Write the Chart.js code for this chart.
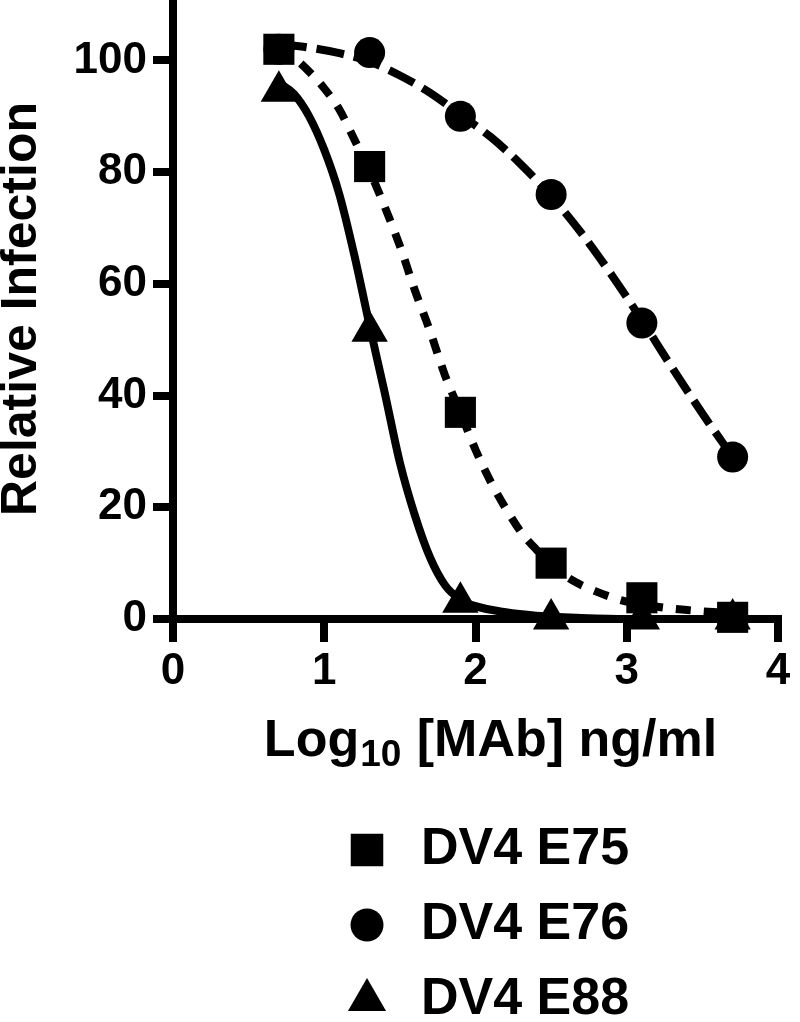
<!DOCTYPE html>
<html>
<head>
<meta charset="utf-8">
<script src="https://cdn.jsdelivr.net/npm/chart.js"></script>
<style>
  html, body { margin: 0; padding: 0; background: #fff; overflow: hidden; }
  /* chart.js keeps ~23px above the plot; hide it so the axis meets the top edge */
  canvas { display: block; margin-top: -23px; }
</style>
</head>
<body>
<canvas id="chart" width="800" height="1045"></canvas>
<script>
// measured doses (log10 ng/ml) and relative infection
const doseLog = [0.7, 1.3, 1.9, 2.5, 3.1, 3.7];
const e75 = [102, 81, 37, 10, 3.8, 0.3];
const e76 = [102, 101.4, 90, 76, 53, 29];
const e88 = [94.5, 51.5, 3, 0, 0, 0];

// fitted curves
const fit75X = [0.7, 0.8, 0.9, 1.0, 1.1, 1.2, 1.3, 1.4, 1.5, 1.6, 1.7, 1.8, 1.9, 2.0, 2.1, 2.2, 2.3, 2.4, 2.5, 2.6, 2.8, 3.0, 3.2, 3.4, 3.7];
const fit75Y = [102.5, 100.5, 98, 95, 91.2, 85.8, 80.2, 73.8, 66.8, 58.8, 51.5, 43.5, 37, 30.3, 24.6, 19.8, 15.6, 12.5, 9.9, 7.6, 4.9, 3.1, 2.2, 1.6, 1.0];
const fit76X = [0.7, 0.9, 1.1, 1.3, 1.5, 1.7, 1.9, 2.1, 2.3, 2.5, 2.7, 2.9, 3.1, 3.3, 3.5, 3.7];
const fit76Y = [103, 102.3, 101.3, 99.8, 97.3, 94.2, 90.3, 86.3, 81.4, 75.7, 69.1, 61.6, 53.5, 45, 36.8, 29];
const fit88X = [0.7, 0.8, 0.9, 1.0, 1.1, 1.2, 1.3, 1.4, 1.5, 1.6, 1.7, 1.8, 1.9, 2.0, 2.2, 2.4, 2.7, 3.0, 3.7];
const fit88Y = [96, 94, 90, 84, 76, 65, 52.5, 40.5, 28, 18.5, 11, 6, 3.5, 2.3, 1.2, 0.6, 0.2, 0, 0];

const seriesNames = ['DV4 E75', 'DV4 E76', 'DV4 E88'];
const xTickValues = [0, 1, 2, 3, 4];
const yTickValues = [0, 20, 40, 60, 80, 100];
const xTitleParts = ['Log', '10', ' [MAb] ng/ml'];
const yTitle = 'Relative Infection';

const FONT = '"Liberation Sans", Arial, Helvetica, sans-serif';

const toPoints = (xs, ys) => xs.map((x, i) => ({ x: x, y: ys[i] }));

function markers(i, values, style, radius) {
  return {
    label: seriesNames[i],
    data: toPoints(doseLog, values),
    pointStyle: style,
    pointRadius: radius,
    pointBackgroundColor: '#000',
    pointBorderWidth: 0,
    showLine: false,
    order: i,
    clip: false,
    legendRow: i
  };
}

function curve(xs, ys, dash) {
  return {
    data: toPoints(xs, ys),
    showLine: true,
    pointRadius: 0,
    borderColor: '#000',
    borderWidth: 8,
    borderDash: dash,
    borderCapStyle: 'butt',
    cubicInterpolationMode: 'monotone',
    order: 5,
    clip: false
  };
}

// x title with subscript + the stacked legend under the plot
const extras = {
  id: 'extras',
  afterDraw(chart) {
    const ctx = chart.ctx;
    const area = chart.chartArea;
    ctx.save();
    ctx.fillStyle = '#000';
    ctx.textAlign = 'left';
    ctx.textBaseline = 'alphabetic';

    const mainFont = 'bold 52px ' + FONT;
    const subFont = 'bold 37px ' + FONT;
    ctx.font = mainFont;
    const w0 = ctx.measureText(xTitleParts[0]).width;
    const w2 = ctx.measureText(xTitleParts[2]).width;
    ctx.font = subFont;
    const w1 = ctx.measureText(xTitleParts[1]).width + 2;
    const base = area.bottom + 137;
    let x = (area.left + area.right) / 2 + 15 - (w0 + w1 + w2) / 2;
    ctx.font = mainFont;
    ctx.fillText(xTitleParts[0], x, base);
    ctx.font = subFont;
    ctx.fillText(xTitleParts[1], x + w0 + 1, base + 10);
    ctx.font = mainFont;
    ctx.fillText(xTitleParts[2], x + w0 + w1, base);

    ctx.textBaseline = 'middle';
    chart.data.datasets.forEach(ds => {
      if (ds.legendRow === undefined) return;
      const y = area.bottom + 231 + ds.legendRow * 75;
      Chart.helpers.drawPoint(ctx, {
        pointStyle: ds.pointStyle,
        radius: ds.pointRadius + 1,
        rotation: 0,
        borderWidth: 0
      }, 367, y);
      ctx.font = mainFont;
      ctx.fillText(ds.label, 421, y);
    });
    ctx.restore();
  }
};

new Chart(document.getElementById('chart'), {
  type: 'scatter',
  data: {
    datasets: [
      markers(0, e75, 'rect', 22),
      markers(1, e76, 'circle', 15.5),
      markers(2, e88, 'triangle', 21),
      curve(fit75X, fit75Y, [15, 13]),
      curve(fit76X, fit76Y, [28, 10]),
      curve(fit88X, fit88Y, [])
    ]
  },
  options: {
    responsive: false,
    animation: false,
    events: [],
    layout: { padding: { top: 0, left: 0, right: 0, bottom: 303 } },
    plugins: { legend: { display: false }, tooltip: { enabled: false } },
    scales: {
      x: {
        type: 'linear',
        min: 0,
        max: 4,
        afterBuildTicks: s => { s.ticks = xTickValues.map(v => ({ value: v })); },
        afterFit: s => { s.height = 100; s.paddingLeft = 0; s.paddingRight = 12; },
        grid: { drawOnChartArea: false, color: '#000', lineWidth: 8, tickLength: 23 },
        border: { color: '#000', width: 8 },
        ticks: { color: '#000', padding: 3, font: { family: FONT, size: 44, weight: 'bold' } }
      },
      y: {
        type: 'linear',
        min: 0,
        max: 111,
        afterBuildTicks: s => { s.ticks = yTickValues.map(v => ({ value: v })); },
        afterFit: s => { s.width = 173; s.paddingTop = 0; s.paddingBottom = 0; },
        grid: { drawOnChartArea: false, color: '#000', lineWidth: 8, tickLength: 20 },
        border: { color: '#000', width: 8 },
        ticks: { color: '#000', padding: 6, font: { family: FONT, size: 44, weight: 'bold' } },
        title: {
          display: true,
          text: yTitle,
          color: '#000',
          padding: 0,
          font: { family: FONT, size: 50, weight: 'bold', lineHeight: 0.88 }
        }
      }
    }
  },
  plugins: [extras]
});
</script>
</body>
</html>
